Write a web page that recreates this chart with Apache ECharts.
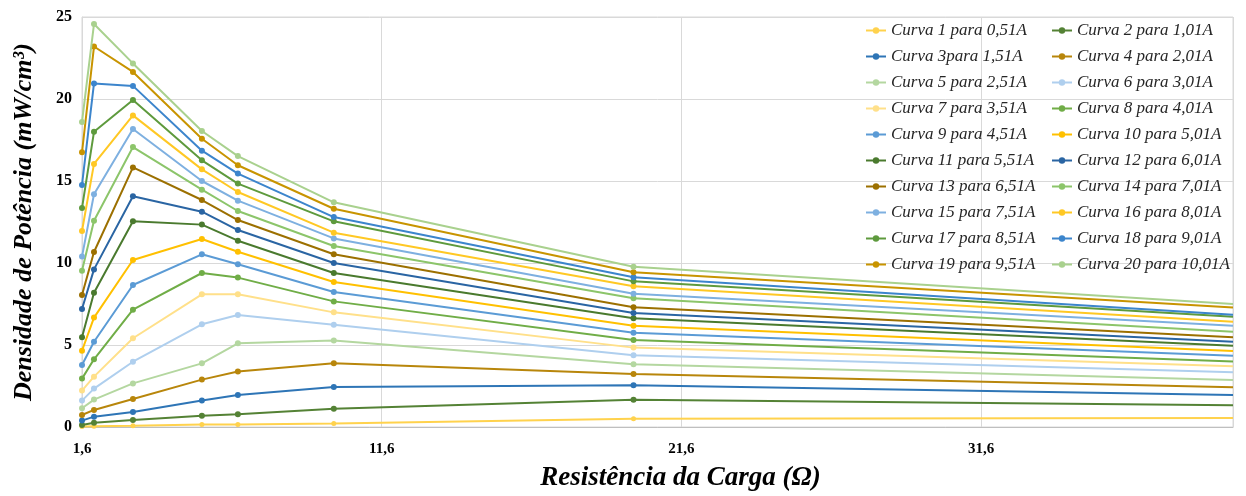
<!DOCTYPE html>
<html>
<head>
<meta charset="utf-8">
<script src="https://cdn.jsdelivr.net/npm/echarts@6/dist/echarts.min.js"></script>
<style>html,body{margin:0;padding:0;background:#fff}#c{width:1246px;height:496px}</style>
</head>
<body>
<div id="c"></div>
<script>
// Load resistance (Ω) at each measured point
const resistance = [1.6, 2.0, 3.3, 5.6, 6.8, 10, 20, 40];
const curveNames = [
  'Curva 1 para 0,51A','Curva 2 para 1,01A','Curva 3para 1,51A','Curva 4 para 2,01A',
  'Curva 5 para 2,51A','Curva 6 para 3,01A','Curva 7 para 3,51A','Curva 8 para 4,01A',
  'Curva 9 para 4,51A','Curva 10 para 5,01A','Curva 11 para 5,51A','Curva 12 para 6,01A',
  'Curva 13 para 6,51A','Curva 14 para 7,01A','Curva 15 para 7,51A','Curva 16 para 8,01A',
  'Curva 17 para 8,51A','Curva 18 para 9,01A','Curva 19 para 9,51A','Curva 20 para 10,01A'
];
const curve1  = [0.03, 0.05, 0.08, 0.16, 0.16, 0.22, 0.51, 0.55];
const curve2  = [0.12, 0.26, 0.43, 0.69, 0.77, 1.12, 1.66, 1.32];
const curve3  = [0.39, 0.63, 0.91, 1.61, 1.95, 2.44, 2.54, 1.95];
const curve4  = [0.73, 1.04, 1.71, 2.89, 3.39, 3.88, 3.23, 2.42];
const curve5  = [1.14, 1.67, 2.66, 3.88, 5.10, 5.28, 3.82, 2.87];
const curve6  = [1.61, 2.34, 3.98, 6.26, 6.83, 6.24, 4.37, 3.34];
const curve7  = [2.22, 3.07, 5.41, 8.09, 8.09, 6.99, 4.84, 3.70];
const curve8  = [2.95, 4.13, 7.15, 9.39, 9.11, 7.66, 5.30, 4.00];
const curve9  = [3.78, 5.20, 8.66, 10.53, 9.92, 8.23, 5.75, 4.35];
const curve10 = [4.65, 6.67, 10.18, 11.46, 10.69, 8.84, 6.18, 4.63];
const curve11 = [5.47, 8.19, 12.54, 12.34, 11.36, 9.39, 6.63, 4.96];
const curve12 = [7.20, 9.61, 14.07, 13.13, 12.01, 10.00, 6.95, 5.20];
const curve13 = [8.05, 10.67, 15.83, 13.84, 12.62, 10.53, 7.30, 5.47];
const curve14 = [9.53, 12.58, 17.07, 14.47, 13.17, 11.04, 7.85, 5.81];
const curve15 = [10.39, 14.19, 18.17, 15.00, 13.80, 11.50, 8.13, 6.18];
const curve16 = [11.95, 16.04, 19.00, 15.71, 14.33, 11.85, 8.58, 6.42];
const curve17 = [13.35, 18.00, 19.94, 16.26, 14.84, 12.54, 8.88, 6.73];
const curve18 = [14.76, 20.95, 20.80, 16.85, 15.45, 12.80, 9.13, 6.85];
const curve19 = [16.75, 23.20, 21.65, 17.58, 15.96, 13.31, 9.43, 7.28];
const curve20 = [18.60, 24.57, 22.17, 18.05, 16.52, 13.70, 9.77, 7.50];
const curves = [curve1,curve2,curve3,curve4,curve5,curve6,curve7,curve8,curve9,curve10,
  curve11,curve12,curve13,curve14,curve15,curve16,curve17,curve18,curve19,curve20];
const xTickLabels = {'1.6':'1,6','11.6':'11,6','21.6':'21,6','31.6':'31,6'};
const yTickLabels = {'0':'0','5':'5','10':'10','15':'15','20':'20','25':'25'};

const colors = ['#FFD24D','#548235','#2E75B6','#B8860B','#B4D7A0','#AFCFEE','#FFE08A','#70AD47',
  '#5B9BD5','#FFC000','#4A7A2E','#2A65A3','#9C7000','#8CC56A','#7EB0E0','#FFC824',
  '#5E9A3D','#3C85CC','#C89400','#A9D18E'];

const series = curves.map((vals, i) => ({
  name: curveNames[i],
  type: 'line',
  symbol: 'circle',
  symbolSize: i === 0 ? 5 : 6,
  lineStyle: {width: 2, color: colors[i]},
  itemStyle: {color: colors[i]},
  z: 2 + i,
  data: resistance.map((r, k) => k === resistance.length - 1
    ? {value: [r, vals[k]], symbol: 'none'}
    : [r, vals[k]])
}));

const legendBase = {
  orient: 'vertical',
  top: 22,
  padding: 0,
  itemWidth: 20,
  itemHeight: 8,
  itemGap: 9,
  textStyle: {fontFamily: 'Liberation Serif', fontStyle: 'italic', fontSize: 17, lineHeight: 17, color: '#262626'},
  selectedMode: false
};

const chart = echarts.init(document.getElementById('c'));
chart.setOption({
  animation: false,
  color: colors,
  grid: {left: 82, right: 13, top: 17, bottom: 69, containLabel: false, outerBoundsMode: 'none',
    show: true, borderColor: '#D9D9D9', borderWidth: 1},
  legend: [
    Object.assign({}, legendBase, {left: 865, data: curveNames.filter((n, i) => i % 2 === 0)}),
    Object.assign({}, legendBase, {left: 1051, data: curveNames.filter((n, i) => i % 2 === 1)})
  ],
  xAxis: {
    type: 'value', min: 1.6, max: 40, interval: 10,
    name: 'Resistência da Carga (Ω)', nameLocation: 'middle', nameGap: 38,
    nameTextStyle: {fontFamily: 'Liberation Serif', fontStyle: 'italic', fontWeight: 'bold', fontSize: 27, color: '#000',
      padding: [0, 0, 0, 46]},
    axisLine: {show: true, lineStyle: {color: '#BFBFBF'}},
    axisTick: {show: false},
    splitLine: {show: true, lineStyle: {color: '#D9D9D9'}},
    axisLabel: {
      margin: 15, showMaxLabel: false,
      fontFamily: 'Liberation Serif', fontWeight: 'bold', fontSize: 15, color: '#000',
      formatter: v => xTickLabels[(Math.round(v * 10) / 10).toString()] || ''
    }
  },
  yAxis: {
    type: 'value', min: 0, max: 25, interval: 5,
    name: 'Densidade de Potência (mW/cm³)', nameLocation: 'middle', nameGap: 45,
    nameTextStyle: {fontFamily: 'Liberation Serif', fontStyle: 'italic', fontWeight: 'bold', fontSize: 26, color: '#000'},
    axisLine: {show: true, lineStyle: {color: '#D9D9D9'}},
    axisTick: {show: false},
    splitLine: {show: true, lineStyle: {color: '#D9D9D9'}},
    axisLabel: {
      margin: 10,
      fontFamily: 'Liberation Serif', fontWeight: 'bold', fontSize: 16, color: '#000',
      formatter: v => yTickLabels[String(v)] || ''
    }
  },
  series: series
});
</script>
</body>
</html>
